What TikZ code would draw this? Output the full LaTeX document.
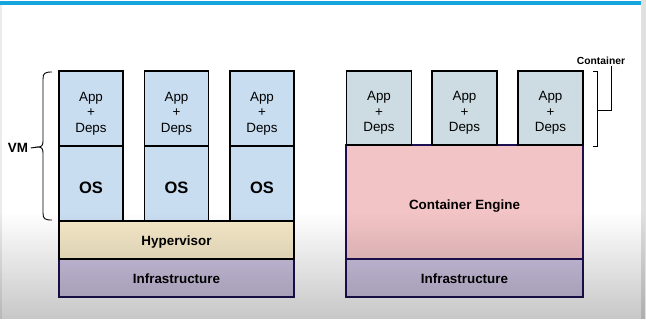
\documentclass[tikz,border=0pt]{standalone}
\usepackage{fontspec}
\setmainfont{Liberation Sans}
\usetikzlibrary{fadings}

\definecolor{vmblue}{HTML}{C9DDF1}
\definecolor{ctblue}{HTML}{CCDCE2}
\definecolor{hyper}{HTML}{F6E9C9}
\definecolor{infra}{HTML}{CCC2E0}
\definecolor{engine}{HTML}{F3C4C6}
\definecolor{navy}{HTML}{1C1050}
\definecolor{topbar}{HTML}{16A6DE}

\tikzfading[name=downfade, top color=transparent!100, bottom color=transparent!0]

\begin{document}
\begin{tikzpicture}[x=1pt, y=-1pt,
  box/.style={draw=black, line width=1.3pt, inner sep=0pt},
  appbox/.style={box, fill=vmblue, minimum width=64pt, minimum height=75pt},
  osbox/.style={box, fill=vmblue, minimum width=64pt, minimum height=75pt},
  ctbox/.style={box, fill=ctblue, minimum width=65pt, minimum height=74pt},
  layerbox/.style={box, minimum width=235pt},
  apptext/.style={align=center, inner sep=0pt, font=\fontsize{13.4}{15.7}\selectfont},
  ostext/.style={inner sep=0pt, font=\fontsize{16.5}{18}\selectfont\bfseries},
  layertext/.style={inner sep=0pt, font=\fontsize{13.4}{15}\selectfont\bfseries},
  bracket/.style={line width=0.9pt, black},
]
\useasboundingbox (0,0) rectangle (646,319);

% page background with the top accent bar
\fill[white] (0,0) rectangle (646,319);
\fill[black!12] (641,0) rectangle (646,319);
\fill[black!8] (0,5) rectangle (1.5,319);
\fill[topbar] (0,1) rectangle (641,5);

% virtual machine stack
\node[layerbox, fill=infra, draw=navy, minimum height=38pt] (vinfra) at (176.5,278) {};
\node[layertext] (vinfrat) at ([yshift=-1pt]vinfra.center) {Infrastructure};
\node[layerbox, fill=hyper, minimum height=38pt] (hyp) at (176.5,240) {};
\node[layertext] (hypt) at ([yshift=-2pt]hyp.center) {Hypervisor};
\foreach \i/\x in {1/91, 2/176.5, 3/262} {
  \node[osbox] (os\i) at (\x,183.5) {};
  \node[ostext] (ost\i) at ([yshift=-4.5pt]os\i.center) {OS};
  \node[appbox] (vapp\i) at (\x,108.5) {};
  \node[apptext] (vappt\i) at ([yshift=-5pt]vapp\i.center) {App\\+\\Deps};
}

% container stack
\node[layerbox, fill=infra, draw=navy, minimum width=237pt, minimum height=38pt] (cinfra) at (464.5,278) {};
\node[layertext] (cinfrat) at ([yshift=-1pt]cinfra.center) {Infrastructure};
\node[layerbox, fill=engine, draw=navy, minimum width=237pt, minimum height=114pt] (engine) at (464.5,202) {};
\node[layertext] (enginet) at ([yshift=-4pt]engine.center) {Container Engine};
\foreach \i/\x in {1/379, 2/464.5, 3/550.5} {
  \node[ctbox] (capp\i) at (\x,108) {};
  \node[apptext] (cappt\i) at ([yshift=-5pt]capp\i.center) {App\\+\\Deps};
}

% VM brace
\node[font=\fontsize{13.4}{15}\selectfont\bfseries, inner sep=1pt] (vm) at (18,148) {VM};
\coordinate (tip) at (38,147);
\draw[bracket] (52,72) .. controls (45,72) and (43,73) .. (43,79) -- (43,141)
  .. controls (43,145) and (42,147) .. (tip)
  .. controls (42,147) and (43,149) .. (43,153) -- (43,213)
  .. controls (43,219) and (45,220) .. (52,220);
\draw[bracket] (vm.east) ++(1.5,0) -- (tip);

% container bracket and its label
\node[font=\fontsize{10.3}{12}\selectfont\bfseries, inner sep=1pt] (ctr) at (601,61) {Container};
\coordinate (bmid) at (597,110);
\coordinate (bend) at (611,110);
\draw[bracket] (593,71) -- (597,71) -- (597,146) -- (593,146);
\draw[bracket] (bmid) -- (bend) -- (bend |- ctr.south);

% soft darkening towards the bottom edge
\fill[black, opacity=0.22, path fading=downfade] (0,212) rectangle (646,319);
\end{tikzpicture}
\end{document}
